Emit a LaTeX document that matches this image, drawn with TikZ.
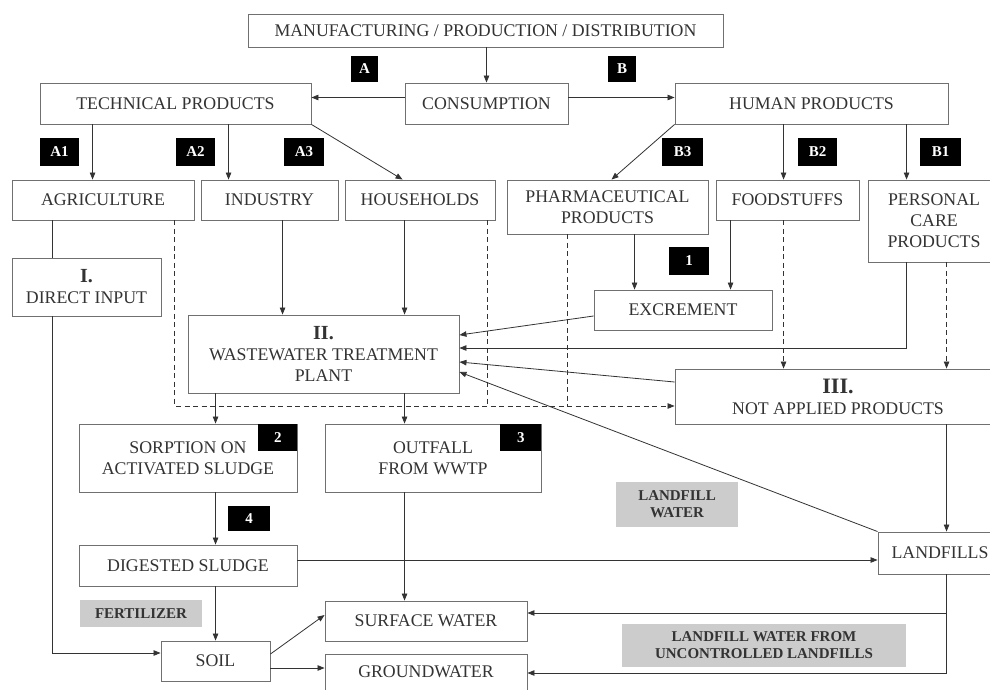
\documentclass[tikz,border=0pt]{standalone}
\usepackage{fontspec}
\setmainfont{Liberation Serif}
\usetikzlibrary{arrows.meta,calc}
\definecolor{ink}{HTML}{333333}
\definecolor{edge}{HTML}{707070}
\definecolor{graybox}{HTML}{CCCCCC}
\newcommand\romfont{\bfseries\fontsize{20}{22}\selectfont}
\begin{document}
\begin{tikzpicture}[x=1pt,y=-1pt,
 box/.style={draw=edge,line width=0.9pt,fill=white,text=ink,align=center,inner sep=0pt,font=\fontsize{17.8}{21}\selectfont},
 badge/.style={fill=black,text=white,inner sep=0pt,font=\bfseries\fontsize{15}{15}\selectfont},
 gbox/.style={fill=graybox,text=ink,align=center,inner sep=0pt,font=\bfseries\fontsize{15}{17}\selectfont},
 arr/.style={draw=ink,line width=0.8pt,-{Triangle[length=7pt,width=5.5pt]}},
 ln/.style={draw=ink,line width=0.8pt},
 darr/.style={arr,dash pattern=on 5pt off 3.5pt},
 dln/.style={ln,dash pattern=on 5pt off 3.5pt},
]
\clip (0,0) rectangle (990,690);
\fill[white] (0,0) rectangle (990,690);

% boxes
\node[box,minimum width=475pt,minimum height=33pt] (manu) at (485.5,30.5) {MANUFACTURING / PRODUCTION / DISTRIBUTION};
\node[box,minimum width=271pt,minimum height=41pt] (tech) at (175.5,103.5) {TECHNICAL PRODUCTS};
\node[box,minimum width=163pt,minimum height=41pt] (cons) at (486.5,103.5) {CONSUMPTION};
\node[box,minimum width=273pt,minimum height=41pt] (human) at (811.5,103.5) {HUMAN PRODUCTS};
\node[box,minimum width=182pt,minimum height=40pt] (agri) at (103,200) {AGRICULTURE};
\node[box,minimum width=137pt,minimum height=40pt] (indus) at (269.5,200) {INDUSTRY};
\node[box,minimum width=150pt,minimum height=40pt] (house) at (420,200) {HOUSEHOLDS};
\node[box,minimum width=201pt,minimum height=54pt] (pharma) at (607.5,207) {PHARMACEUTICAL\\PRODUCTS};
\node[box,minimum width=143pt,minimum height=40pt] (food) at (787.5,200) {FOODSTUFFS};
\node[box,minimum width=132pt,minimum height=82pt] (personal) at (934,221) {PERSONAL\\CARE\\PRODUCTS};
\node[box,minimum width=149pt,minimum height=58pt] (direct) at (86.5,287) {{\romfont I.}\\DIRECT INPUT};
\node[box,minimum width=271pt,minimum height=78pt] (wwtp) at (323.5,354) {{\romfont II.}\\WASTEWATER TREATMENT\\PLANT};
\node[box,minimum width=178pt,minimum height=40pt] (excr) at (683,310) {EXCREMENT};
\node[box,minimum width=326pt,minimum height=55pt] (notapp) at (838,396.5) {{\bfseries\fontsize{22}{23}\selectfont III.}\\NOT APPLIED PRODUCTS};
\node[box,minimum width=218pt,minimum height=68pt] (sorp) at (188,458) {SORPTION ON\\ACTIVATED SLUDGE};
\node[box,minimum width=216pt,minimum height=68pt] (outfall) at (433,458) {OUTFALL\\FROM WWTP};
\node[box,minimum width=218pt,minimum height=41pt] (digest) at (188,565.5) {DIGESTED SLUDGE};
\node[box,minimum width=109pt,minimum height=40pt] (soil) at (215.5,661) {SOIL};
\node[box,minimum width=202pt,minimum height=40pt] (surface) at (426,621) {SURFACE WATER};
\node[box,minimum width=202pt,minimum height=36pt] (ground) at (426,672) {GROUNDWATER};
\node[box,minimum width=124pt,minimum height=42pt] (landf) at (940,553) {LANDFILLS};

% grey labels
\node[gbox,minimum width=122pt,minimum height=27pt] (fert) at (141,613.5) {FERTILIZER};
\node[gbox,minimum width=122pt,minimum height=45pt] (lw) at (677,504.5) {LANDFILL\\WATER};
\node[gbox,minimum width=284pt,minimum height=43pt] (lwu) at (764,645.5) {LANDFILL WATER FROM\\UNCONTROLLED LANDFILLS};

% badges
\node[badge,minimum width=27pt,minimum height=26pt] (bA) at (364.5,69) {A};
\node[badge,minimum width=28pt,minimum height=26pt] (bB) at (622,69) {B};
\node[badge,minimum width=39pt,minimum height=28pt] (bA1) at (59.5,152) {A1};
\node[badge,minimum width=39pt,minimum height=28pt] (bA2) at (195.5,152) {A2};
\node[badge,minimum width=40pt,minimum height=28pt] (bA3) at (304,152) {A3};
\node[badge,minimum width=41pt,minimum height=28pt] (bB3) at (682.5,152) {B3};
\node[badge,minimum width=39pt,minimum height=28pt] (bB2) at (817.5,152) {B2};
\node[badge,minimum width=41pt,minimum height=28pt] (bB1) at (940.5,152) {B1};
\node[badge,minimum width=40pt,minimum height=28pt] (b1) at (689,261) {1};
\node[badge,minimum width=39pt,minimum height=27pt,anchor=north east] (b2) at (sorp.north east) {2};
\node[badge,minimum width=41pt,minimum height=27pt,anchor=north east] (b3) at (outfall.north east) {3};
\node[badge,minimum width=42pt,minimum height=25pt] (b4) at (249,518.5) {4};

% helper coordinates
\coordinate (dashy) at ($(notapp.west)+(0,9.5)$);
\coordinate (c53) at ($(agri.south west)+(41,0)$);
\coordinate (c175) at ($(agri.south west)+(163,0)$);
\coordinate (c487) at ($(house.south east)+(-8,0)$);
\coordinate (c568) at ($(pharma.south west)+(61,0)$);
\coordinate (c907) at ($(personal.south west)+(39,0)$);
\coordinate (c947) at ($(landf.south west)+(69,0)$);
\coordinate (d53) at ($(direct.south west)+(41,0)$);

% top level
\draw[arr] (manu.south -| cons.north) -- (cons.north);
\draw[arr] ([yshift=6pt]cons.west) -- ([yshift=6pt]tech.east);
\draw[arr] ([yshift=6pt]cons.east) -- ([yshift=6pt]human.west);
\draw[arr] ($(tech.south west)+(53,0)$) -- ($(agri.north west)+(81,0)$);
\draw[arr] ($(tech.south west)+(189,0)$) -- ($(indus.north west)+(28,0)$);
\draw[arr] (tech.south east) -- ($(house.north west)+(58,0)$);
\draw[arr] (human.south west) -- ($(pharma.north west)+(105,0)$);
\draw[arr] ($(human.south west)+(109,0)$) -- ($(food.north west)+(68,0)$);
\draw[arr] ($(human.south west)+(232,0)$) -- ($(personal.north west)+(39,0)$);

% agriculture / direct input
\draw[ln] (c53) -- (c53 |- direct.north);
\draw[arr] (d53) |- ($(soil.west)+(0,-8)$);

% dashed not-applied loop
\draw[darr] (c175) |- (dashy);
\draw[dln] (c487) -- (c487 |- dashy);
\draw[dln] (c568) -- (c568 |- dashy);
\draw[darr] ($(food.south west)+(68,0)$) -- ($(notapp.north west)+(109,0)$);
\draw[darr] ($(personal.south west)+(79,0)$) -- ($(notapp.north west)+(272,0)$);

% into WWTP
\draw[arr] ($(indus.south west)+(82,0)$) -- ($(wwtp.north west)+(95,0)$);
\draw[arr] ($(house.south west)+(60,0)$) -- ($(wwtp.north west)+(217,0)$);
\draw[arr] ($(pharma.south west)+(128,0)$) -- ($(excr.north west)+(41,0)$);
\draw[arr] ($(food.south west)+(15,0)$) -- ($(excr.north west)+(137,0)$);
\draw[arr] ($(excr.west)+(0,6)$) -- ($(wwtp.east)+(0,-19)$);
\draw[arr] (c907) |- ($(wwtp.east)+(0,-6)$);
\draw[arr] ($(notapp.west)+(0,-14.5)$) -- ($(wwtp.east)+(0,8)$);
\draw[arr] (landf.north west) -- ($(wwtp.east)+(0,18)$);

% out of WWTP
\draw[arr] ($(wwtp.south west)+(28,0)$) -- ($(sorp.north west)+(137,0)$);
\draw[arr] ($(wwtp.south west)+(217,0)$) -- ($(outfall.north west)+(80,0)$);
\draw[arr] ($(sorp.south west)+(137,0)$) -- ($(digest.north west)+(137,0)$);
\draw[arr] ($(digest.south west)+(137,0)$) -- ($(soil.north west)+(55,0)$);
\draw[arr] ($(outfall.south west)+(80,0)$) -- ($(surface.north west)+(80,0)$);
\draw[arr] ($(soil.east)+(0,-7)$) -- ($(surface.west)+(0,-6)$);
\draw[arr] ($(soil.east)+(0,7)$) -- ($(ground.west)+(0,-4)$);
\draw[arr] ($(digest.east)+(0,-5.5)$) -- ($(landf.west)+(0,7)$);

% landfills
\draw[arr] ($(notapp.south west)+(272,0)$) -- ($(landf.north west)+(69,0)$);
\draw[arr] (c947) |- ($(surface.east)+(0,-8)$);
\draw[arr] (c947) |- ($(ground.east)+(0,1)$);
\end{tikzpicture}
\end{document}
